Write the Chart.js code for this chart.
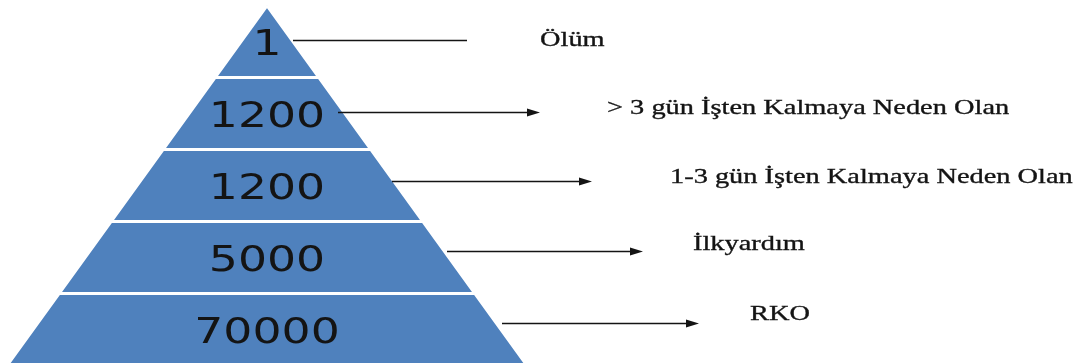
<!DOCTYPE html>
<html>
<head>
<meta charset="utf-8">
<script src="https://cdn.jsdelivr.net/npm/chart.js@4/dist/chart.umd.min.js"></script>
<style>
  html, body { margin: 0; padding: 0; background: #ffffff; }
  #wrap { width: 1081px; height: 363px; position: relative; }
</style>
</head>
<body>
<div id="wrap"><canvas id="pyramid"></canvas></div>
<script>
// Levels of the accident pyramid, from the apex down to the base
const categories = [
  'Ölüm',
  '> 3 gün İşten Kalmaya Neden Olan',
  '1-3 gün İşten Kalmaya Neden Olan',
  'İlkyardım',
  'RKO'
];
const counts = [1, 1200, 1200, 5000, 70000];

// Callout layout, in canvas pixels
const arrowStartX = [293, 338, 392, 447, 502];
const arrowEndX   = [467, 540, 592, 643, 699];
const arrowHead   = [false, true, true, true, true];
const arrowDy     = [-1.5, -2, -5, -7, -7];      // arrow line relative to level centre
const labelX      = [540, 607, 670, 693, 750];
const labelDy     = [4.5, 0, -3, -8, -9.5];      // label baseline relative to level centre

const BLUE = '#4f81bd';
const INK = '#141414';
const NUM_STRETCH = 1.27;
const LABEL_STRETCH = 1.29;

const n = counts.length;
// Half-width of the pyramid at height y (base = 0, apex = n)
const halfWidth = y => (n - y) / n;

// One closed trapezoid (triangle at the top) per level
const datasets = counts.map((value, i) => {
  const yb = n - 1 - i, yt = n - i;
  return {
    label: categories[i],
    data: [
      { x: -halfWidth(yb), y: yb },
      { x:  halfWidth(yb), y: yb },
      { x:  halfWidth(yt), y: yt },
      { x: -halfWidth(yt), y: yt },
      { x: -halfWidth(yb), y: yb }
    ],
    showLine: true,
    fill: 'shape',
    backgroundColor: BLUE,
    borderColor: '#ffffff',
    borderWidth: 3,
    borderJoinStyle: 'miter',
    tension: 0,
    pointRadius: 0,
    pointHoverRadius: 0
  };
});

// Values inside each level, plus the arrow callouts with their captions
const levelText = {
  id: 'levelText',
  afterDatasetsDraw(chart) {
    const { ctx, scales: { x, y } } = chart;
    const xc = x.getPixelForValue(0);
    for (let i = 0; i < n; i++) {
      const yc = y.getPixelForValue(n - i - 0.5);

      ctx.save();
      ctx.font = '36px "DejaVu Sans"';
      ctx.fillStyle = INK;
      ctx.textAlign = 'center';
      ctx.textBaseline = 'alphabetic';
      ctx.translate(xc, yc + 13);
      ctx.scale(NUM_STRETCH, 1);
      ctx.fillText(String(counts[i]), 0, 0);
      ctx.restore();

      const ay = Math.round(yc + arrowDy[i]) + 0.5;
      const tip = arrowEndX[i];
      ctx.save();
      ctx.strokeStyle = INK;
      ctx.fillStyle = INK;
      ctx.lineWidth = 1.6;
      ctx.beginPath();
      ctx.moveTo(arrowStartX[i], ay);
      ctx.lineTo(arrowHead[i] ? tip - 10 : tip, ay);
      ctx.stroke();
      if (arrowHead[i]) {
        ctx.beginPath();
        ctx.moveTo(tip, ay);
        ctx.lineTo(tip - 13, ay - 4);
        ctx.lineTo(tip - 13, ay + 4);
        ctx.closePath();
        ctx.fill();
      }
      ctx.restore();

      ctx.save();
      ctx.font = '22px "Liberation Serif"';
      ctx.fillStyle = INK;
      ctx.strokeStyle = INK;
      ctx.lineWidth = 0.35;
      ctx.textAlign = 'left';
      ctx.textBaseline = 'alphabetic';
      ctx.translate(labelX[i], yc + labelDy[i]);
      ctx.scale(LABEL_STRETCH, 1);
      ctx.fillText(categories[i], 0, 0);
      ctx.strokeText(categories[i], 0, 0);
      ctx.restore();
    }
  }
};

new Chart(document.getElementById('pyramid'), {
  type: 'scatter',
  data: { datasets },
  options: {
    responsive: true,
    maintainAspectRatio: false,
    animation: false,
    events: [],
    layout: { padding: { top: 5.5, right: 0, bottom: 0, left: 0 } },
    scales: {
      x: { type: 'linear', display: false, min: -1.027, max: 3.131 },
      y: { type: 'linear', display: false, min: 0.035, max: 5 }
    },
    plugins: {
      legend: { display: false },
      tooltip: { enabled: false }
    }
  },
  plugins: [levelText]
});
</script>
</body>
</html>
